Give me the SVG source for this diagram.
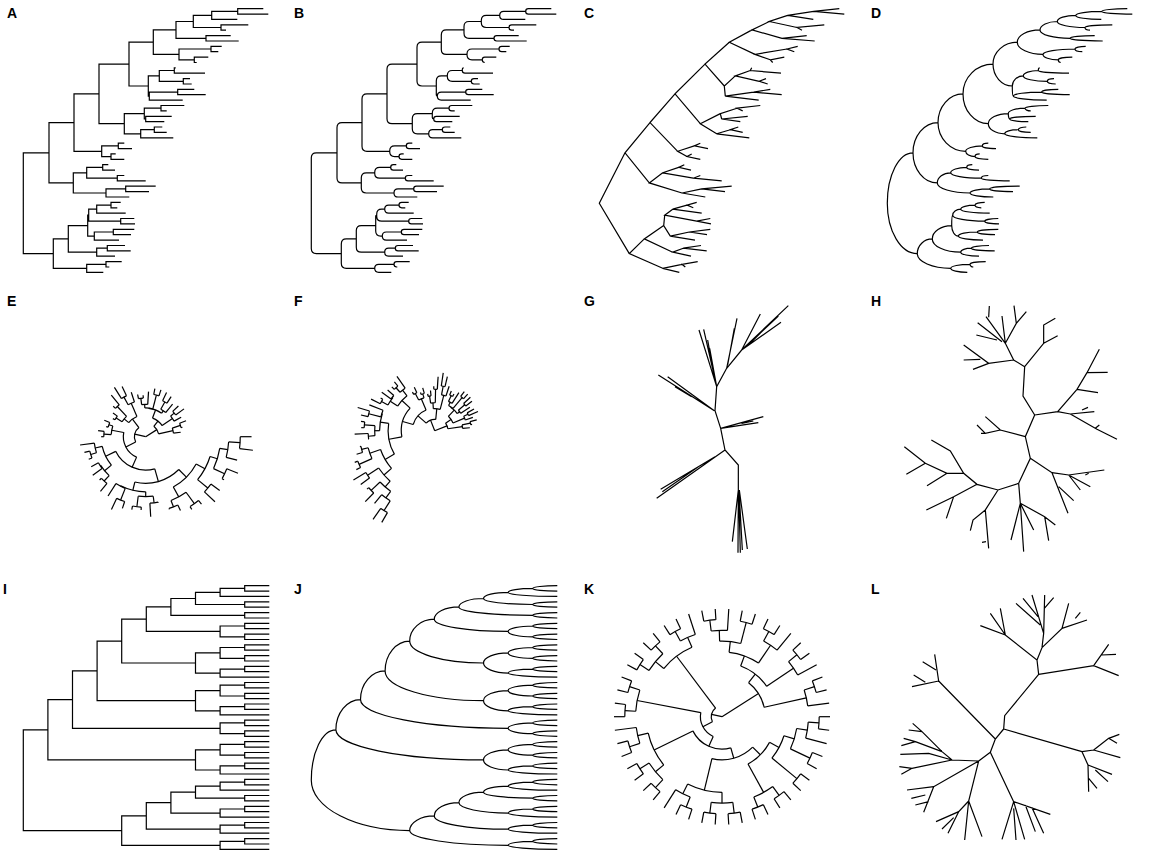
<svg xmlns="http://www.w3.org/2000/svg" width="1151" height="863" viewBox="0 0 1151 863">
<style>
.t{fill:none;stroke:#000;stroke-width:1.2;stroke-linecap:butt;stroke-linejoin:miter}
.lb{font-family:"Liberation Sans",Arial,sans-serif;font-weight:bold;font-size:14px;fill:#000}
</style>
<rect width="1151" height="863" fill="#fff"/>
<g id="labels">
<text class="lb" x="7" y="18">A</text>
<text class="lb" x="294" y="18">B</text>
<text class="lb" x="584" y="18">C</text>
<text class="lb" x="871" y="18">D</text>
<text class="lb" x="7" y="306">E</text>
<text class="lb" x="294" y="306">F</text>
<text class="lb" x="584" y="306">G</text>
<text class="lb" x="871" y="306">H</text>
<text class="lb" x="3" y="594">I</text>
<text class="lb" x="294" y="594">J</text>
<text class="lb" x="584" y="594">K</text>
<text class="lb" x="871" y="594">L</text>
</g>
<g id="tree-A" class="t">
<path d="M49 152.8H23.3V253.6H53.3M74 122.6H49V182.9H73.3M99 93.9H74V151.3H101.7M129 64.1H99V123.7H124.3M153.3 42.2H129V86H148.3M176 29.9H153.3V54.4H179M193.3 21.5H176V38.3H206M211.7 15.4H193.3V27.5H221M237.7 11.4H211.7V19.4H237.3M263.3 8.7H237.7V14.1H268.3M248.3 24.8H221V30.2H226M230.7 35.6H206V41H238.7M211 49H179V59.8H194.3M221.7 46.3H211V51.7H218.3M208.3 57.1H194.3V62.5H196.7M159.3 75.9H148.3V96.1H149.3M174.3 70.5H159.3V81.3H183.3M175.7 67.8H174.3V73.2H205M190 78.6H183.3V84H191.7M177.7 92.1H149.3V100.1H182.7M194.3 89.4H177.7V94.7H205.7M144.3 113.6H124.3V133.8H140.7M161 108.2H144.3V119H145.7M184.3 105.5H161V110.9H166.7M171.7 116.3H145.7V121.7H164.3M154.3 129.7H140.7V137.8H173.3M162.3 127H154.3V132.4H166.7M118.3 145.9H101.7V156.6H111M124.3 143.2H118.3V148.6H132M115.7 153.9H111V159.3H124.3M86.7 172.8H73.3V193H106M102.7 167.4H86.7V178.2H117.3M108.3 164.7H102.7V170.1H115M124.3 175.5H117.3V180.9H145.7M125.7 188.9H106V197H129.3M155.7 186.2H125.7V191.6H149M68.3 238.9H53.3V268.3H86.7M87.7 225.6H68.3V252.2H96.7M88.7 215.2H87.7V236.1H94.3M96.7 209.2H88.7V221.2H120.7M111 205.1H96.7V213.2H125.7M120.7 202.4H111V207.8H117.3M134.3 218.5H120.7V223.9H135M113.3 232H94.3V240.1H119M134.3 229.3H113.3V234.7H131M107.3 248.2H96.7V256.2H115M125 245.5H107.3V250.8H130.7M106 264.3H86.7V272.3H103.3M121.7 261.6H106V267H109.3"/>
</g>
<g id="tree-B" class="t" transform="translate(288,0)">
<path d="M49 152.8H28.3Q23.3 152.8 23.3 157.8V248.6Q23.3 253.6 28.3 253.6H53.3M74 122.6H54Q49 122.6 49 127.6V177.9Q49 182.9 54 182.9H73.3M99 93.9H79Q74 93.9 74 98.9V146.3Q74 151.3 79 151.3H101.7M129 64.1H104Q99 64.1 99 69.1V118.7Q99 123.7 104 123.7H124.3M153.3 42.2H134Q129 42.2 129 47.2V81Q129 86 134 86H148.3M176 29.9H158.3Q153.3 29.9 153.3 34.9V49.4Q153.3 54.4 158.3 54.4H179M193.3 21.5H181Q176 21.5 176 26.5V33.3Q176 38.3 181 38.3H206M211.7 15.4H198.3Q193.3 15.4 193.3 20.4V22.5Q193.3 27.5 198.3 27.5H221M237.7 11.4H215.7Q211.7 11.4 211.7 15.4Q211.7 19.4 215.7 19.4H237.3M263.3 8.7H240.4Q237.7 8.7 237.7 11.4Q237.7 14.1 240.4 14.1H268.3M248.3 24.8H223.7Q221 24.8 221 27.5Q221 30.2 223.7 30.2H226M230.7 35.6H208.7Q206 35.6 206 38.3Q206 41 208.7 41H238.7M211 49H184Q179 49 179 54V54.8Q179 59.8 184 59.8H194.3M221.7 46.3H213.7Q211 46.3 211 49Q211 51.7 213.7 51.7H218.3M208.3 57.1H196.7Q194.3 57.1 194.3 59.5V60.1Q194.3 62.5 196.7 62.5M159.3 75.9H153.3Q148.3 75.9 148.3 80.9V95.1Q148.3 96.1 149.3 96.1M174.3 70.5H164.3Q159.3 70.5 159.3 75.5V76.3Q159.3 81.3 164.3 81.3H183.3M175.7 67.8Q174.3 67.8 174.3 69.2V70.5Q174.3 73.2 177 73.2H205M190 78.6H186Q183.3 78.6 183.3 81.3Q183.3 84 186 84H191.7M177.7 92.1H153.3Q149.3 92.1 149.3 96.1Q149.3 100.1 153.3 100.1H182.7M194.3 89.4H180.4Q177.7 89.4 177.7 92.1Q177.7 94.7 180.4 94.7H205.7M144.3 113.6H129.3Q124.3 113.6 124.3 118.6V128.8Q124.3 133.8 129.3 133.8H140.7M161 108.2H149.3Q144.3 108.2 144.3 113.2V117.6Q144.3 119 145.7 119M184.3 105.5H163.7Q161 105.5 161 108.2Q161 110.9 163.7 110.9H166.7M171.7 116.3H148.4Q145.7 116.3 145.7 119Q145.7 121.7 148.4 121.7H164.3M154.3 129.7H144.7Q140.7 129.7 140.7 133.7Q140.7 137.8 144.7 137.8H173.3M162.3 127H157Q154.3 127 154.3 129.7Q154.3 132.4 157 132.4H166.7M118.3 145.9H106.7Q101.7 145.9 101.7 150.9V151.6Q101.7 156.6 106.7 156.6H111M124.3 143.2H121Q118.3 143.2 118.3 145.9Q118.3 148.6 121 148.6H132M115.7 153.9H113.7Q111 153.9 111 156.6Q111 159.3 113.7 159.3H124.3M86.7 172.8H78.3Q73.3 172.8 73.3 177.8V188Q73.3 193 78.3 193H106M102.7 167.4H91.7Q86.7 167.4 86.7 172.4V173.2Q86.7 178.2 91.7 178.2H117.3M108.3 164.7H105.4Q102.7 164.7 102.7 167.4Q102.7 170.1 105.4 170.1H115M124.3 175.5H120Q117.3 175.5 117.3 178.2Q117.3 180.9 120 180.9H145.7M125.7 188.9H110Q106 188.9 106 192.9Q106 197 110 197H129.3M155.7 186.2H128.4Q125.7 186.2 125.7 188.9Q125.7 191.6 128.4 191.6H149M68.3 238.9H58.3Q53.3 238.9 53.3 243.9V263.3Q53.3 268.3 58.3 268.3H86.7M87.7 225.6H73.3Q68.3 225.6 68.3 230.6V247.2Q68.3 252.2 73.3 252.2H96.7M88.7 215.2Q87.7 215.2 87.7 216.2V231.1Q87.7 236.1 92.7 236.1H94.3M96.7 209.2H93.7Q88.7 209.2 88.7 214.2V216.2Q88.7 221.2 93.7 221.2H120.7M111 205.1H100.7Q96.7 205.1 96.7 209.1Q96.7 213.2 100.7 213.2H125.7M120.7 202.4H113.7Q111 202.4 111 205.1Q111 207.8 113.7 207.8H117.3M134.3 218.5H123.4Q120.7 218.5 120.7 221.2Q120.7 223.9 123.4 223.9H135M113.3 232H98.3Q94.3 232 94.3 236Q94.3 240.1 98.3 240.1H119M134.3 229.3H116Q113.3 229.3 113.3 232Q113.3 234.7 116 234.7H131M107.3 248.2H100.7Q96.7 248.2 96.7 252.2Q96.7 256.2 100.7 256.2H115M125 245.5H110Q107.3 245.5 107.3 248.2Q107.3 250.8 110 250.8H130.7M106 264.3H90.7Q86.7 264.3 86.7 268.3Q86.7 272.3 90.7 272.3H103.3M121.7 261.6H108.7Q106 261.6 106 264.3Q106 267 108.7 267H109.3"/>
</g>
<g id="tree-C" class="t" transform="translate(576,0)">
<path d="M49 152.8L23.3 203.2L53.3 253.6M74 122.6L49 152.8L73.3 182.9M99 93.9L74 122.6L101.7 151.3M129 64.1L99 93.9L124.3 123.7M153.3 42.2L129 64.1L148.3 86M176 29.9L153.3 42.2L179 54.4M193.3 21.5L176 29.9L206 38.3M211.7 15.4L193.3 21.5L221 27.5M237.7 11.4L211.7 15.4L237.3 19.4M263.3 8.7L237.7 11.4L268.3 14.1M248.3 24.8L221 27.5L226 30.2M230.7 35.6L206 38.3L238.7 41M211 49L179 54.4L194.3 59.8M221.7 46.3L211 49L218.3 51.7M208.3 57.1L194.3 59.8L196.7 62.5M159.3 75.9L148.3 86L149.3 96.1M174.3 70.5L159.3 75.9L183.3 81.3M175.7 67.8L174.3 70.5L205 73.2M190 78.6L183.3 81.3L191.7 84M177.7 92.1L149.3 96.1L182.7 100.1M194.3 89.4L177.7 92.1L205.7 94.7M144.3 113.6L124.3 123.7L140.7 133.8M161 108.2L144.3 113.6L145.7 119M184.3 105.5L161 108.2L166.7 110.9M171.7 116.3L145.7 119L164.3 121.7M154.3 129.7L140.7 133.8L173.3 137.8M162.3 127L154.3 129.7L166.7 132.4M118.3 145.9L101.7 151.3L111 156.6M124.3 143.2L118.3 145.9L132 148.6M115.7 153.9L111 156.6L124.3 159.3M86.7 172.8L73.3 182.9L106 193M102.7 167.4L86.7 172.8L117.3 178.2M108.3 164.7L102.7 167.4L115 170.1M124.3 175.5L117.3 178.2L145.7 180.9M125.7 188.9L106 193L129.3 197M155.7 186.2L125.7 188.9L149 191.6M68.3 238.9L53.3 253.6L86.7 268.3M87.7 225.6L68.3 238.9L96.7 252.2M88.7 215.2L87.7 225.6L94.3 236.1M96.7 209.2L88.7 215.2L120.7 221.2M111 205.1L96.7 209.2L125.7 213.2M120.7 202.4L111 205.1L117.3 207.8M134.3 218.5L120.7 221.2L135 223.9M113.3 232L94.3 236.1L119 240.1M134.3 229.3L113.3 232L131 234.7M107.3 248.2L96.7 252.2L115 256.2M125 245.5L107.3 248.2L130.7 250.8M106 264.3L86.7 268.3L103.3 272.3M121.7 261.6L106 264.3L109.3 267"/>
</g>
<g id="tree-D" class="t" transform="translate(864,0)">
<path d="M49 152.8A25.7 50.4 0 0 0 23.3 203.2A30 50.4 0 0 0 53.3 253.6M74 122.6A25 30.2 0 0 0 49 152.8A24.3 30.1 0 0 0 73.3 182.9M99 93.9A25 28.7 0 0 0 74 122.6A27.7 28.7 0 0 0 101.7 151.3M129 64.1A30 29.8 0 0 0 99 93.9A25.3 29.8 0 0 0 124.3 123.7M153.3 42.2A24.3 21.9 0 0 0 129 64.1A19.3 21.9 0 0 0 148.3 86M176 29.9A22.7 12.3 0 0 0 153.3 42.2A25.7 12.2 0 0 0 179 54.4M193.3 21.5A17.3 8.4 0 0 0 176 29.9A30 8.4 0 0 0 206 38.3M211.7 15.4A18.4 6.1 0 0 0 193.3 21.5A27.7 6 0 0 0 221 27.5M237.7 11.4A26 4 0 0 0 211.7 15.4A25.6 4 0 0 0 237.3 19.4M263.3 8.7A25.6 2.7 0 0 0 237.7 11.4A30.6 2.7 0 0 0 268.3 14.1M248.3 24.8A27.3 2.7 0 0 0 221 27.5A5 2.7 0 0 0 226 30.2M230.7 35.6A24.7 2.7 0 0 0 206 38.3A32.7 2.7 0 0 0 238.7 41M211 49A32 5.4 0 0 0 179 54.4A15.3 5.4 0 0 0 194.3 59.8M221.7 46.3A10.7 2.7 0 0 0 211 49A7.3 2.7 0 0 0 218.3 51.7M208.3 57.1A14 2.7 0 0 0 194.3 59.8A2.4 2.7 0 0 0 196.7 62.5M159.3 75.9A11 10.1 0 0 0 148.3 86A1 10.1 0 0 0 149.3 96.1M174.3 70.5A15 5.4 0 0 0 159.3 75.9A24 5.4 0 0 0 183.3 81.3M175.7 67.8A1.4 2.7 0 0 0 174.3 70.5A30.7 2.7 0 0 0 205 73.2M190 78.6A6.7 2.7 0 0 0 183.3 81.3A8.4 2.7 0 0 0 191.7 84M177.7 92.1A28.4 4 0 0 0 149.3 96.1A33.4 4 0 0 0 182.7 100.1M194.3 89.4A16.6 2.7 0 0 0 177.7 92.1A28 2.6 0 0 0 205.7 94.7M144.3 113.6A20 10.1 0 0 0 124.3 123.7A16.4 10.1 0 0 0 140.7 133.8M161 108.2A16.7 5.4 0 0 0 144.3 113.6A1.4 5.4 0 0 0 145.7 119M184.3 105.5A23.3 2.7 0 0 0 161 108.2A5.7 2.7 0 0 0 166.7 110.9M171.7 116.3A26 2.7 0 0 0 145.7 119A18.6 2.7 0 0 0 164.3 121.7M154.3 129.7A13.6 4.1 0 0 0 140.7 133.8A32.6 4 0 0 0 173.3 137.8M162.3 127A8 2.7 0 0 0 154.3 129.7A12.4 2.7 0 0 0 166.7 132.4M118.3 145.9A16.6 5.4 0 0 0 101.7 151.3A9.3 5.3 0 0 0 111 156.6M124.3 143.2A6 2.7 0 0 0 118.3 145.9A13.7 2.7 0 0 0 132 148.6M115.7 153.9A4.7 2.7 0 0 0 111 156.6A13.3 2.7 0 0 0 124.3 159.3M86.7 172.8A13.4 10.1 0 0 0 73.3 182.9A32.7 10.1 0 0 0 106 193M102.7 167.4A16 5.4 0 0 0 86.7 172.8A30.6 5.4 0 0 0 117.3 178.2M108.3 164.7A5.6 2.7 0 0 0 102.7 167.4A12.3 2.7 0 0 0 115 170.1M124.3 175.5A7 2.7 0 0 0 117.3 178.2A28.4 2.7 0 0 0 145.7 180.9M125.7 188.9A19.7 4.1 0 0 0 106 193A23.3 4 0 0 0 129.3 197M155.7 186.2A30 2.7 0 0 0 125.7 188.9A23.3 2.7 0 0 0 149 191.6M68.3 238.9A15 14.7 0 0 0 53.3 253.6A33.4 14.7 0 0 0 86.7 268.3M87.7 225.6A19.4 13.3 0 0 0 68.3 238.9A28.4 13.3 0 0 0 96.7 252.2M88.7 215.2A1 10.4 0 0 0 87.7 225.6A6.6 10.5 0 0 0 94.3 236.1M96.7 209.2A8 6 0 0 0 88.7 215.2A32 6 0 0 0 120.7 221.2M111 205.1A14.3 4.1 0 0 0 96.7 209.2A29 4 0 0 0 125.7 213.2M120.7 202.4A9.7 2.7 0 0 0 111 205.1A6.3 2.7 0 0 0 117.3 207.8M134.3 218.5A13.6 2.7 0 0 0 120.7 221.2A14.3 2.7 0 0 0 135 223.9M113.3 232A19 4.1 0 0 0 94.3 236.1A24.7 4 0 0 0 119 240.1M134.3 229.3A21 2.7 0 0 0 113.3 232A17.7 2.7 0 0 0 131 234.7M107.3 248.2A10.6 4 0 0 0 96.7 252.2A18.3 4 0 0 0 115 256.2M125 245.5A17.7 2.7 0 0 0 107.3 248.2A23.4 2.6 0 0 0 130.7 250.8M106 264.3A19.3 4 0 0 0 86.7 268.3A16.6 4 0 0 0 103.3 272.3M121.7 261.6A15.7 2.7 0 0 0 106 264.3A3.3 2.7 0 0 0 109.3 267"/>
</g>
<g id="tree-E" class="t" transform="translate(145.7,436.7) scale(0.441)" style="stroke-width:2.72">
<path d="M0 0H25.7" transform="rotate(-167.2)"/><path d="M0 0H30" transform="rotate(-32.3)"/>
<path d="M25.7 0H50.7" transform="rotate(-207.6)"/><path d="M25.7 0H50" transform="rotate(-126.9)"/>
<path d="M50.7 0H75.7" transform="rotate(-246)"/><path d="M50.7 0H78.4" transform="rotate(-169.2)"/>
<path d="M75.7 0H105.7" transform="rotate(-285.8)"/><path d="M75.7 0H101" transform="rotate(-206.1)"/>
<path d="M105.7 0H130" transform="rotate(-315.2)"/><path d="M105.7 0H125" transform="rotate(-256.5)"/>
<path d="M130 0H152.7" transform="rotate(-331.65)"/><path d="M130 0H155.7" transform="rotate(-298.8)"/>
<path d="M152.7 0H170" transform="rotate(-342.9)"/><path d="M152.7 0H182.7" transform="rotate(-320.4)"/>
<path d="M170 0H188.4" transform="rotate(-351)"/><path d="M170 0H197.7" transform="rotate(-334.8)"/>
<path d="M188.4 0H214.4" transform="rotate(-356.4)"/><path d="M188.4 0H214" transform="rotate(-345.6)"/>
<path d="M214.4 0H240" transform="rotate(-360)"/><path d="M214.4 0H245" transform="rotate(-352.8)"/>
<path d="M197.7 0H225" transform="rotate(-338.4)"/><path d="M197.7 0H202.7" transform="rotate(-331.2)"/>
<path d="M182.7 0H207.4" transform="rotate(-324)"/><path d="M182.7 0H215.4" transform="rotate(-316.8)"/>
<path d="M155.7 0H187.7" transform="rotate(-306)"/><path d="M155.7 0H171" transform="rotate(-291.6)"/>
<path d="M187.7 0H198.4" transform="rotate(-309.6)"/><path d="M187.7 0H195" transform="rotate(-302.4)"/>
<path d="M171 0H185" transform="rotate(-295.2)"/><path d="M171 0H173.4" transform="rotate(-288)"/>
<path d="M125 0H136" transform="rotate(-270)"/><path d="M125 0H126" transform="rotate(-243)"/>
<path d="M136 0H151" transform="rotate(-277.2)"/><path d="M136 0H160" transform="rotate(-262.8)"/>
<path d="M151 0H152.4" transform="rotate(-280.8)"/><path d="M151 0H181.7" transform="rotate(-273.6)"/>
<path d="M160 0H166.7" transform="rotate(-266.4)"/><path d="M160 0H168.4" transform="rotate(-259.2)"/>
<path d="M126 0H154.4" transform="rotate(-248.4)"/><path d="M126 0H159.4" transform="rotate(-237.6)"/>
<path d="M154.4 0H171" transform="rotate(-252)"/><path d="M154.4 0H182.4" transform="rotate(-244.8)"/>
<path d="M101 0H121" transform="rotate(-219.6)"/><path d="M101 0H117.4" transform="rotate(-192.6)"/>
<path d="M121 0H137.7" transform="rotate(-226.8)"/><path d="M121 0H122.4" transform="rotate(-212.4)"/>
<path d="M137.7 0H161" transform="rotate(-230.4)"/><path d="M137.7 0H143.4" transform="rotate(-223.2)"/>
<path d="M122.4 0H148.4" transform="rotate(-216)"/><path d="M122.4 0H141" transform="rotate(-208.8)"/>
<path d="M117.4 0H131" transform="rotate(-198)"/><path d="M117.4 0H150" transform="rotate(-187.2)"/>
<path d="M131 0H139" transform="rotate(-201.6)"/><path d="M131 0H143.4" transform="rotate(-194.4)"/>
<path d="M78.4 0H95" transform="rotate(-176.4)"/><path d="M78.4 0H87.7" transform="rotate(-162)"/>
<path d="M95 0H101" transform="rotate(-180)"/><path d="M95 0H108.7" transform="rotate(-172.8)"/>
<path d="M87.7 0H92.4" transform="rotate(-165.6)"/><path d="M87.7 0H101" transform="rotate(-158.4)"/>
<path d="M50 0H63.4" transform="rotate(-140.4)"/><path d="M50 0H82.7" transform="rotate(-113.4)"/>
<path d="M63.4 0H79.4" transform="rotate(-147.6)"/><path d="M63.4 0H94" transform="rotate(-133.2)"/>
<path d="M79.4 0H85" transform="rotate(-151.2)"/><path d="M79.4 0H91.7" transform="rotate(-144)"/>
<path d="M94 0H101" transform="rotate(-136.8)"/><path d="M94 0H122.4" transform="rotate(-129.6)"/>
<path d="M82.7 0H102.4" transform="rotate(-118.8)"/><path d="M82.7 0H106" transform="rotate(-108)"/>
<path d="M102.4 0H132.4" transform="rotate(-122.4)"/><path d="M102.4 0H125.7" transform="rotate(-115.2)"/>
<path d="M30 0H45" transform="rotate(-52)"/><path d="M30 0H63.4" transform="rotate(-12.6)"/>
<path d="M45 0H64.4" transform="rotate(-69.75)"/><path d="M45 0H73.4" transform="rotate(-34.2)"/>
<path d="M64.4 0H65.4" transform="rotate(-83.7)"/><path d="M64.4 0H71" transform="rotate(-55.8)"/>
<path d="M65.4 0H73.4" transform="rotate(-91.8)"/><path d="M65.4 0H97.4" transform="rotate(-75.6)"/>
<path d="M73.4 0H87.7" transform="rotate(-97.2)"/><path d="M73.4 0H102.4" transform="rotate(-86.4)"/>
<path d="M87.7 0H97.4" transform="rotate(-100.8)"/><path d="M87.7 0H94" transform="rotate(-93.6)"/>
<path d="M97.4 0H111" transform="rotate(-79.2)"/><path d="M97.4 0H111.7" transform="rotate(-72)"/>
<path d="M71 0H90" transform="rotate(-61.2)"/><path d="M71 0H95.7" transform="rotate(-50.4)"/>
<path d="M90 0H111" transform="rotate(-64.8)"/><path d="M90 0H107.7" transform="rotate(-57.6)"/>
<path d="M73.4 0H84" transform="rotate(-39.6)"/><path d="M73.4 0H91.7" transform="rotate(-28.8)"/>
<path d="M84 0H101.7" transform="rotate(-43.2)"/><path d="M84 0H107.4" transform="rotate(-36)"/>
<path d="M63.4 0H82.7" transform="rotate(-18)"/><path d="M63.4 0H80" transform="rotate(-7.2)"/>
<path d="M82.7 0H98.4" transform="rotate(-21.6)"/><path d="M82.7 0H86" transform="rotate(-14.4)"/>
<circle r="25.7" transform="rotate(-207.6)" stroke-dasharray="36.19 2000"/>
<circle r="50.7" transform="rotate(-246)" stroke-dasharray="67.91 2000"/>
<circle r="75.7" transform="rotate(-285.8)" stroke-dasharray="105.35 2000"/>
<circle r="105.7" transform="rotate(-315.2)" stroke-dasharray="108.32 2000"/>
<circle r="130" transform="rotate(-331.65)" stroke-dasharray="74.53 2000"/>
<circle r="152.7" transform="rotate(-342.9)" stroke-dasharray="59.96 2000"/>
<circle r="170" transform="rotate(-351)" stroke-dasharray="48.07 2000"/>
<circle r="188.4" transform="rotate(-356.4)" stroke-dasharray="35.51 2000"/>
<circle r="214.4" transform="rotate(-360)" stroke-dasharray="26.94 2000"/>
<circle r="197.7" transform="rotate(-338.4)" stroke-dasharray="24.84 2000"/>
<circle r="182.7" transform="rotate(-324)" stroke-dasharray="22.96 2000"/>
<circle r="155.7" transform="rotate(-306)" stroke-dasharray="39.13 2000"/>
<circle r="187.7" transform="rotate(-309.6)" stroke-dasharray="23.59 2000"/>
<circle r="171" transform="rotate(-295.2)" stroke-dasharray="21.49 2000"/>
<circle r="125" transform="rotate(-270)" stroke-dasharray="58.9 2000"/>
<circle r="136" transform="rotate(-277.2)" stroke-dasharray="34.18 2000"/>
<circle r="151" transform="rotate(-280.8)" stroke-dasharray="18.97 2000"/>
<circle r="160" transform="rotate(-266.4)" stroke-dasharray="20.11 2000"/>
<circle r="126" transform="rotate(-248.4)" stroke-dasharray="23.75 2000"/>
<circle r="154.4" transform="rotate(-252)" stroke-dasharray="19.4 2000"/>
<circle r="101" transform="rotate(-219.6)" stroke-dasharray="47.6 2000"/>
<circle r="121" transform="rotate(-226.8)" stroke-dasharray="30.41 2000"/>
<circle r="137.7" transform="rotate(-230.4)" stroke-dasharray="17.3 2000"/>
<circle r="122.4" transform="rotate(-216)" stroke-dasharray="15.38 2000"/>
<circle r="117.4" transform="rotate(-198)" stroke-dasharray="22.13 2000"/>
<circle r="131" transform="rotate(-201.6)" stroke-dasharray="16.46 2000"/>
<circle r="78.4" transform="rotate(-176.4)" stroke-dasharray="19.7 2000"/>
<circle r="95" transform="rotate(-180)" stroke-dasharray="11.94 2000"/>
<circle r="87.7" transform="rotate(-165.6)" stroke-dasharray="11.02 2000"/>
<circle r="50" transform="rotate(-140.4)" stroke-dasharray="23.56 2000"/>
<circle r="63.4" transform="rotate(-147.6)" stroke-dasharray="15.93 2000"/>
<circle r="79.4" transform="rotate(-151.2)" stroke-dasharray="9.98 2000"/>
<circle r="94" transform="rotate(-136.8)" stroke-dasharray="11.81 2000"/>
<circle r="82.7" transform="rotate(-118.8)" stroke-dasharray="15.59 2000"/>
<circle r="102.4" transform="rotate(-122.4)" stroke-dasharray="12.87 2000"/>
<circle r="30" transform="rotate(-52)" stroke-dasharray="20.62 2000"/>
<circle r="45" transform="rotate(-69.75)" stroke-dasharray="27.92 2000"/>
<circle r="64.4" transform="rotate(-83.7)" stroke-dasharray="31.36 2000"/>
<circle r="65.4" transform="rotate(-91.8)" stroke-dasharray="18.49 2000"/>
<circle r="73.4" transform="rotate(-97.2)" stroke-dasharray="13.84 2000"/>
<circle r="87.7" transform="rotate(-100.8)" stroke-dasharray="11.02 2000"/>
<circle r="97.4" transform="rotate(-79.2)" stroke-dasharray="12.24 2000"/>
<circle r="71" transform="rotate(-61.2)" stroke-dasharray="13.38 2000"/>
<circle r="90" transform="rotate(-64.8)" stroke-dasharray="11.31 2000"/>
<circle r="73.4" transform="rotate(-39.6)" stroke-dasharray="13.84 2000"/>
<circle r="84" transform="rotate(-43.2)" stroke-dasharray="10.56 2000"/>
<circle r="63.4" transform="rotate(-18)" stroke-dasharray="11.95 2000"/>
<circle r="82.7" transform="rotate(-21.6)" stroke-dasharray="10.39 2000"/>
</g>
<g id="tree-F" class="t" transform="translate(434.7,430.7) scale(0.441)" style="stroke-width:2.72">
<path d="M0 0H25.7" transform="rotate(-111.5)"/><path d="M0 0H30" transform="rotate(-21.5)"/>
<path d="M25.7 0H50.7" transform="rotate(-138.4)"/><path d="M25.7 0H50" transform="rotate(-84.6)"/>
<path d="M50.7 0H75.7" transform="rotate(-164)"/><path d="M50.7 0H78.4" transform="rotate(-112.8)"/>
<path d="M75.7 0H105.7" transform="rotate(-190.6)"/><path d="M75.7 0H101" transform="rotate(-137.4)"/>
<path d="M105.7 0H130" transform="rotate(-210.1)"/><path d="M105.7 0H125" transform="rotate(-171)"/>
<path d="M130 0H152.7" transform="rotate(-221.1)"/><path d="M130 0H155.7" transform="rotate(-199.2)"/>
<path d="M152.7 0H170" transform="rotate(-228.6)"/><path d="M152.7 0H182.7" transform="rotate(-213.6)"/>
<path d="M170 0H188.4" transform="rotate(-234)"/><path d="M170 0H197.7" transform="rotate(-223.2)"/>
<path d="M188.4 0H214.4" transform="rotate(-237.6)"/><path d="M188.4 0H214" transform="rotate(-230.4)"/>
<path d="M214.4 0H240" transform="rotate(-240)"/><path d="M214.4 0H245" transform="rotate(-235.2)"/>
<path d="M197.7 0H225" transform="rotate(-225.6)"/><path d="M197.7 0H202.7" transform="rotate(-220.8)"/>
<path d="M182.7 0H207.4" transform="rotate(-216)"/><path d="M182.7 0H215.4" transform="rotate(-211.2)"/>
<path d="M155.7 0H187.7" transform="rotate(-204)"/><path d="M155.7 0H171" transform="rotate(-194.4)"/>
<path d="M187.7 0H198.4" transform="rotate(-206.4)"/><path d="M187.7 0H195" transform="rotate(-201.6)"/>
<path d="M171 0H185" transform="rotate(-196.8)"/><path d="M171 0H173.4" transform="rotate(-192)"/>
<path d="M125 0H136" transform="rotate(-180)"/><path d="M125 0H126" transform="rotate(-162)"/>
<path d="M136 0H151" transform="rotate(-184.8)"/><path d="M136 0H160" transform="rotate(-175.2)"/>
<path d="M151 0H152.4" transform="rotate(-187.2)"/><path d="M151 0H181.7" transform="rotate(-182.4)"/>
<path d="M160 0H166.7" transform="rotate(-177.6)"/><path d="M160 0H168.4" transform="rotate(-172.8)"/>
<path d="M126 0H154.4" transform="rotate(-165.6)"/><path d="M126 0H159.4" transform="rotate(-158.4)"/>
<path d="M154.4 0H171" transform="rotate(-168)"/><path d="M154.4 0H182.4" transform="rotate(-163.2)"/>
<path d="M101 0H121" transform="rotate(-146.4)"/><path d="M101 0H117.4" transform="rotate(-128.4)"/>
<path d="M121 0H137.7" transform="rotate(-151.2)"/><path d="M121 0H122.4" transform="rotate(-141.6)"/>
<path d="M137.7 0H161" transform="rotate(-153.6)"/><path d="M137.7 0H143.4" transform="rotate(-148.8)"/>
<path d="M122.4 0H148.4" transform="rotate(-144)"/><path d="M122.4 0H141" transform="rotate(-139.2)"/>
<path d="M117.4 0H131" transform="rotate(-132)"/><path d="M117.4 0H150" transform="rotate(-124.8)"/>
<path d="M131 0H139" transform="rotate(-134.4)"/><path d="M131 0H143.4" transform="rotate(-129.6)"/>
<path d="M78.4 0H95" transform="rotate(-117.6)"/><path d="M78.4 0H87.7" transform="rotate(-108)"/>
<path d="M95 0H101" transform="rotate(-120)"/><path d="M95 0H108.7" transform="rotate(-115.2)"/>
<path d="M87.7 0H92.4" transform="rotate(-110.4)"/><path d="M87.7 0H101" transform="rotate(-105.6)"/>
<path d="M50 0H63.4" transform="rotate(-93.6)"/><path d="M50 0H82.7" transform="rotate(-75.6)"/>
<path d="M63.4 0H79.4" transform="rotate(-98.4)"/><path d="M63.4 0H94" transform="rotate(-88.8)"/>
<path d="M79.4 0H85" transform="rotate(-100.8)"/><path d="M79.4 0H91.7" transform="rotate(-96)"/>
<path d="M94 0H101" transform="rotate(-91.2)"/><path d="M94 0H122.4" transform="rotate(-86.4)"/>
<path d="M82.7 0H102.4" transform="rotate(-79.2)"/><path d="M82.7 0H106" transform="rotate(-72)"/>
<path d="M102.4 0H132.4" transform="rotate(-81.6)"/><path d="M102.4 0H125.7" transform="rotate(-76.8)"/>
<path d="M30 0H45" transform="rotate(-34.7)"/><path d="M30 0H63.4" transform="rotate(-8.4)"/>
<path d="M45 0H64.4" transform="rotate(-46.5)"/><path d="M45 0H73.4" transform="rotate(-22.8)"/>
<path d="M64.4 0H65.4" transform="rotate(-55.8)"/><path d="M64.4 0H71" transform="rotate(-37.2)"/>
<path d="M65.4 0H73.4" transform="rotate(-61.2)"/><path d="M65.4 0H97.4" transform="rotate(-50.4)"/>
<path d="M73.4 0H87.7" transform="rotate(-64.8)"/><path d="M73.4 0H102.4" transform="rotate(-57.6)"/>
<path d="M87.7 0H97.4" transform="rotate(-67.2)"/><path d="M87.7 0H94" transform="rotate(-62.4)"/>
<path d="M97.4 0H111" transform="rotate(-52.8)"/><path d="M97.4 0H111.7" transform="rotate(-48)"/>
<path d="M71 0H90" transform="rotate(-40.8)"/><path d="M71 0H95.7" transform="rotate(-33.6)"/>
<path d="M90 0H111" transform="rotate(-43.2)"/><path d="M90 0H107.7" transform="rotate(-38.4)"/>
<path d="M73.4 0H84" transform="rotate(-26.4)"/><path d="M73.4 0H91.7" transform="rotate(-19.2)"/>
<path d="M84 0H101.7" transform="rotate(-28.8)"/><path d="M84 0H107.4" transform="rotate(-24)"/>
<path d="M63.4 0H82.7" transform="rotate(-12)"/><path d="M63.4 0H80" transform="rotate(-4.8)"/>
<path d="M82.7 0H98.4" transform="rotate(-14.4)"/><path d="M82.7 0H86" transform="rotate(-9.6)"/>
<circle r="25.7" transform="rotate(-138.4)" stroke-dasharray="24.13 2000"/>
<circle r="50.7" transform="rotate(-164)" stroke-dasharray="45.27 2000"/>
<circle r="75.7" transform="rotate(-190.6)" stroke-dasharray="70.23 2000"/>
<circle r="105.7" transform="rotate(-210.1)" stroke-dasharray="72.21 2000"/>
<circle r="130" transform="rotate(-221.1)" stroke-dasharray="49.69 2000"/>
<circle r="152.7" transform="rotate(-228.6)" stroke-dasharray="39.97 2000"/>
<circle r="170" transform="rotate(-234)" stroke-dasharray="32.05 2000"/>
<circle r="188.4" transform="rotate(-237.6)" stroke-dasharray="23.67 2000"/>
<circle r="214.4" transform="rotate(-240)" stroke-dasharray="17.96 2000"/>
<circle r="197.7" transform="rotate(-225.6)" stroke-dasharray="16.56 2000"/>
<circle r="182.7" transform="rotate(-216)" stroke-dasharray="15.31 2000"/>
<circle r="155.7" transform="rotate(-204)" stroke-dasharray="26.09 2000"/>
<circle r="187.7" transform="rotate(-206.4)" stroke-dasharray="15.73 2000"/>
<circle r="171" transform="rotate(-196.8)" stroke-dasharray="14.33 2000"/>
<circle r="125" transform="rotate(-180)" stroke-dasharray="39.27 2000"/>
<circle r="136" transform="rotate(-184.8)" stroke-dasharray="22.79 2000"/>
<circle r="151" transform="rotate(-187.2)" stroke-dasharray="12.65 2000"/>
<circle r="160" transform="rotate(-177.6)" stroke-dasharray="13.41 2000"/>
<circle r="126" transform="rotate(-165.6)" stroke-dasharray="15.83 2000"/>
<circle r="154.4" transform="rotate(-168)" stroke-dasharray="12.93 2000"/>
<circle r="101" transform="rotate(-146.4)" stroke-dasharray="31.73 2000"/>
<circle r="121" transform="rotate(-151.2)" stroke-dasharray="20.27 2000"/>
<circle r="137.7" transform="rotate(-153.6)" stroke-dasharray="11.53 2000"/>
<circle r="122.4" transform="rotate(-144)" stroke-dasharray="10.25 2000"/>
<circle r="117.4" transform="rotate(-132)" stroke-dasharray="14.75 2000"/>
<circle r="131" transform="rotate(-134.4)" stroke-dasharray="10.97 2000"/>
<circle r="78.4" transform="rotate(-117.6)" stroke-dasharray="13.13 2000"/>
<circle r="95" transform="rotate(-120)" stroke-dasharray="7.96 2000"/>
<circle r="87.7" transform="rotate(-110.4)" stroke-dasharray="7.35 2000"/>
<circle r="50" transform="rotate(-93.6)" stroke-dasharray="15.71 2000"/>
<circle r="63.4" transform="rotate(-98.4)" stroke-dasharray="10.62 2000"/>
<circle r="79.4" transform="rotate(-100.8)" stroke-dasharray="6.65 2000"/>
<circle r="94" transform="rotate(-91.2)" stroke-dasharray="7.87 2000"/>
<circle r="82.7" transform="rotate(-79.2)" stroke-dasharray="10.39 2000"/>
<circle r="102.4" transform="rotate(-81.6)" stroke-dasharray="8.58 2000"/>
<circle r="30" transform="rotate(-34.7)" stroke-dasharray="13.75 2000"/>
<circle r="45" transform="rotate(-46.5)" stroke-dasharray="18.61 2000"/>
<circle r="64.4" transform="rotate(-55.8)" stroke-dasharray="20.91 2000"/>
<circle r="65.4" transform="rotate(-61.2)" stroke-dasharray="12.33 2000"/>
<circle r="73.4" transform="rotate(-64.8)" stroke-dasharray="9.23 2000"/>
<circle r="87.7" transform="rotate(-67.2)" stroke-dasharray="7.35 2000"/>
<circle r="97.4" transform="rotate(-52.8)" stroke-dasharray="8.16 2000"/>
<circle r="71" transform="rotate(-40.8)" stroke-dasharray="8.92 2000"/>
<circle r="90" transform="rotate(-43.2)" stroke-dasharray="7.54 2000"/>
<circle r="73.4" transform="rotate(-26.4)" stroke-dasharray="9.23 2000"/>
<circle r="84" transform="rotate(-28.8)" stroke-dasharray="7.04 2000"/>
<circle r="63.4" transform="rotate(-12)" stroke-dasharray="7.97 2000"/>
<circle r="82.7" transform="rotate(-14.4)" stroke-dasharray="6.93 2000"/>
</g>
<g id="tree-G" class="t" transform="translate(575,290) scale(0.33333)" style="stroke-width:3.6">
<path d="M490 600L490 525L450 480L437 415L420 362L425 290L455 235M490 600L472 755M490 600L489 788M491 600L496 788M492 600L502 780M493 600L517 777M450 480L245 625M420 500L257 598M370 530L262 605M437 415L565 380M437 415L550 398M500 400L535 393M418 362L250 255M418 362L278 260M350 320L300 290M425 290L372 120M425 290L386 118M420 270L398 150M425 290L404 175M455 235L486 85M458 225L478 115M455 235L500 180L640 47M500 180L556 72M500 180L618 97M520 165L585 100M525 158L610 78"/>
</g>
<g id="tree-H" class="t" transform="translate(862,290) scale(0.33333)" style="stroke-width:3.6">
<path d="M488 230L483 318L518 375L490 440L505 505L470 580M488 230L455 210L430 160L372 80M380 82L382 48M430 160L420 78M430 160L463 100L456 47M463 100L493 65M420 155L347 98M405 150L343 135M455 210L380 220L305 165M380 220L333 238M355 208L305 210M488 230L545 160L545 105L580 85M545 160L587 137M518 375L587 365L645 298L675 248L712 178M675 248L737 247M645 298L708 308M587 365L625 372L697 365M625 372L705 418L765 448M700 415L712 405M660 360L678 352M490 440L415 420L370 380M415 420L370 430L345 405M370 430L357 430M505 505L570 548L620 555L727 540M620 555L685 590M620 555L655 600M570 548L618 670M590 590L635 632M670 555L680 550M470 580L408 600L345 583L305 550L265 483L208 450M305 550L255 550L190 520L127 470M190 520L133 553M255 550L195 587M345 583L275 620L193 660M275 620L253 685M408 600L370 660L380 775M370 660L333 690L325 722M372 755L360 757M470 580L475 640L485 785M475 640L447 750M475 640L515 720M475 640L548 680L580 705M548 680L560 752"/>
</g>
<g id="tree-I" class="t" transform="translate(0,577)">
<path d="M47.9 152.8H23.3V253.6H121.7M72.5 122.6H47.9V182.9H195.5M97.1 93.9H72.5V151.3H220.1M121.7 64.1H97.1V123.7H195.5M146.3 42.2H121.7V86H195.5M170.9 29.9H146.3V54.4H220.1M195.5 21.5H170.9V38.3H244.7M220.1 15.4H195.5V27.5H244.7M244.7 11.4H220.1V19.4H269.3M269.3 8.7H244.7V14.1H269.3M269.3 24.8H244.7V30.2H269.3M269.3 35.6H244.7V41H269.3M244.7 49H220.1V59.8H244.7M269.3 46.3H244.7V51.7H269.3M269.3 57.1H244.7V62.5H269.3M220.1 75.9H195.5V96.1H220.1M244.7 70.5H220.1V81.3H244.7M269.3 67.8H244.7V73.2H269.3M269.3 78.6H244.7V84H269.3M244.7 92.1H220.1V100.1H269.3M269.3 89.4H244.7V94.7H269.3M220.1 113.6H195.5V133.8H220.1M244.7 108.2H220.1V119H244.7M269.3 105.5H244.7V110.9H269.3M269.3 116.3H244.7V121.7H269.3M244.7 129.7H220.1V137.8H269.3M269.3 127H244.7V132.4H269.3M244.7 145.9H220.1V156.6H244.7M269.3 143.2H244.7V148.6H269.3M269.3 153.9H244.7V159.3H269.3M220.1 172.8H195.5V193H220.1M244.7 167.4H220.1V178.2H244.7M269.3 164.7H244.7V170.1H269.3M269.3 175.5H244.7V180.9H269.3M244.7 188.9H220.1V197H269.3M269.3 186.2H244.7V191.6H269.3M146.3 238.9H121.7V268.3H220.1M170.9 225.6H146.3V252.2H220.1M195.5 215.2H170.9V236.1H220.1M220.1 209.2H195.5V221.2H244.7M244.7 205.1H220.1V213.2H269.3M269.3 202.4H244.7V207.8H269.3M269.3 218.5H244.7V223.9H269.3M244.7 232H220.1V240.1H269.3M269.3 229.3H244.7V234.7H269.3M244.7 248.2H220.1V256.2H269.3M269.3 245.5H244.7V250.8H269.3M244.7 264.3H220.1V272.3H269.3M269.3 261.6H244.7V267H269.3"/>
</g>
<g id="tree-J" class="t" transform="translate(288,577)">
<path d="M47.9 152.8A24.6 50.4 0 0 0 23.3 203.2A98.4 50.4 0 0 0 121.7 253.6M72.5 122.6A24.6 30.2 0 0 0 47.9 152.8A147.6 30.1 0 0 0 195.5 182.9M97.1 93.9A24.6 28.7 0 0 0 72.5 122.6A147.6 28.7 0 0 0 220.1 151.3M121.7 64.1A24.6 29.8 0 0 0 97.1 93.9A98.4 29.8 0 0 0 195.5 123.7M146.3 42.2A24.6 21.9 0 0 0 121.7 64.1A73.8 21.9 0 0 0 195.5 86M170.9 29.9A24.6 12.3 0 0 0 146.3 42.2A73.8 12.2 0 0 0 220.1 54.4M195.5 21.5A24.6 8.4 0 0 0 170.9 29.9A73.8 8.4 0 0 0 244.7 38.3M220.1 15.4A24.6 6.1 0 0 0 195.5 21.5A49.2 6 0 0 0 244.7 27.5M244.7 11.4A24.6 4 0 0 0 220.1 15.4A49.2 4 0 0 0 269.3 19.4M269.3 8.7A24.6 2.7 0 0 0 244.7 11.4A24.6 2.7 0 0 0 269.3 14.1M269.3 24.8A24.6 2.7 0 0 0 244.7 27.5A24.6 2.7 0 0 0 269.3 30.2M269.3 35.6A24.6 2.7 0 0 0 244.7 38.3A24.6 2.7 0 0 0 269.3 41M244.7 49A24.6 5.4 0 0 0 220.1 54.4A24.6 5.4 0 0 0 244.7 59.8M269.3 46.3A24.6 2.7 0 0 0 244.7 49A24.6 2.7 0 0 0 269.3 51.7M269.3 57.1A24.6 2.7 0 0 0 244.7 59.8A24.6 2.7 0 0 0 269.3 62.5M220.1 75.9A24.6 10.1 0 0 0 195.5 86A24.6 10.1 0 0 0 220.1 96.1M244.7 70.5A24.6 5.4 0 0 0 220.1 75.9A24.6 5.4 0 0 0 244.7 81.3M269.3 67.8A24.6 2.7 0 0 0 244.7 70.5A24.6 2.7 0 0 0 269.3 73.2M269.3 78.6A24.6 2.7 0 0 0 244.7 81.3A24.6 2.7 0 0 0 269.3 84M244.7 92.1A24.6 4 0 0 0 220.1 96.1A49.2 4 0 0 0 269.3 100.1M269.3 89.4A24.6 2.7 0 0 0 244.7 92.1A24.6 2.6 0 0 0 269.3 94.7M220.1 113.6A24.6 10.1 0 0 0 195.5 123.7A24.6 10.1 0 0 0 220.1 133.8M244.7 108.2A24.6 5.4 0 0 0 220.1 113.6A24.6 5.4 0 0 0 244.7 119M269.3 105.5A24.6 2.7 0 0 0 244.7 108.2A24.6 2.7 0 0 0 269.3 110.9M269.3 116.3A24.6 2.7 0 0 0 244.7 119A24.6 2.7 0 0 0 269.3 121.7M244.7 129.7A24.6 4.1 0 0 0 220.1 133.8A49.2 4 0 0 0 269.3 137.8M269.3 127A24.6 2.7 0 0 0 244.7 129.7A24.6 2.7 0 0 0 269.3 132.4M244.7 145.9A24.6 5.4 0 0 0 220.1 151.3A24.6 5.3 0 0 0 244.7 156.6M269.3 143.2A24.6 2.7 0 0 0 244.7 145.9A24.6 2.7 0 0 0 269.3 148.6M269.3 153.9A24.6 2.7 0 0 0 244.7 156.6A24.6 2.7 0 0 0 269.3 159.3M220.1 172.8A24.6 10.1 0 0 0 195.5 182.9A24.6 10.1 0 0 0 220.1 193M244.7 167.4A24.6 5.4 0 0 0 220.1 172.8A24.6 5.4 0 0 0 244.7 178.2M269.3 164.7A24.6 2.7 0 0 0 244.7 167.4A24.6 2.7 0 0 0 269.3 170.1M269.3 175.5A24.6 2.7 0 0 0 244.7 178.2A24.6 2.7 0 0 0 269.3 180.9M244.7 188.9A24.6 4.1 0 0 0 220.1 193A49.2 4 0 0 0 269.3 197M269.3 186.2A24.6 2.7 0 0 0 244.7 188.9A24.6 2.7 0 0 0 269.3 191.6M146.3 238.9A24.6 14.7 0 0 0 121.7 253.6A98.4 14.7 0 0 0 220.1 268.3M170.9 225.6A24.6 13.3 0 0 0 146.3 238.9A73.8 13.3 0 0 0 220.1 252.2M195.5 215.2A24.6 10.4 0 0 0 170.9 225.6A49.2 10.5 0 0 0 220.1 236.1M220.1 209.2A24.6 6 0 0 0 195.5 215.2A49.2 6 0 0 0 244.7 221.2M244.7 205.1A24.6 4.1 0 0 0 220.1 209.2A49.2 4 0 0 0 269.3 213.2M269.3 202.4A24.6 2.7 0 0 0 244.7 205.1A24.6 2.7 0 0 0 269.3 207.8M269.3 218.5A24.6 2.7 0 0 0 244.7 221.2A24.6 2.7 0 0 0 269.3 223.9M244.7 232A24.6 4.1 0 0 0 220.1 236.1A49.2 4 0 0 0 269.3 240.1M269.3 229.3A24.6 2.7 0 0 0 244.7 232A24.6 2.7 0 0 0 269.3 234.7M244.7 248.2A24.6 4 0 0 0 220.1 252.2A49.2 4 0 0 0 269.3 256.2M269.3 245.5A24.6 2.7 0 0 0 244.7 248.2A24.6 2.6 0 0 0 269.3 250.8M244.7 264.3A24.6 4 0 0 0 220.1 268.3A49.2 4 0 0 0 269.3 272.3M269.3 261.6A24.6 2.7 0 0 0 244.7 264.3A24.6 2.7 0 0 0 269.3 267"/>
</g>
<g id="tree-K" class="t" transform="translate(722,716.7) scale(10.8)" style="stroke-width:0.111">
<path d="M0 0H1" transform="rotate(-167.2)"/><path d="M0 0H4" transform="rotate(-32.3)"/>
<path d="M1 0H2" transform="rotate(-207.6)"/><path d="M1 0H7" transform="rotate(-126.9)"/>
<path d="M2 0H3" transform="rotate(-246)"/><path d="M2 0H8" transform="rotate(-169.2)"/>
<path d="M3 0H4" transform="rotate(-285.8)"/><path d="M3 0H7" transform="rotate(-206.1)"/>
<path d="M4 0H5" transform="rotate(-315.2)"/><path d="M4 0H7" transform="rotate(-256.5)"/>
<path d="M5 0H6" transform="rotate(-331.65)"/><path d="M5 0H8" transform="rotate(-298.8)"/>
<path d="M6 0H7" transform="rotate(-342.9)"/><path d="M6 0H9" transform="rotate(-320.4)"/>
<path d="M7 0H8" transform="rotate(-351)"/><path d="M7 0H9" transform="rotate(-334.8)"/>
<path d="M8 0H9" transform="rotate(-356.4)"/><path d="M8 0H10" transform="rotate(-345.6)"/>
<path d="M9 0H10" transform="rotate(-360)"/><path d="M9 0H10" transform="rotate(-352.8)"/>
<path d="M9 0H10" transform="rotate(-338.4)"/><path d="M9 0H10" transform="rotate(-331.2)"/>
<path d="M9 0H10" transform="rotate(-324)"/><path d="M9 0H10" transform="rotate(-316.8)"/>
<path d="M8 0H9" transform="rotate(-306)"/><path d="M8 0H9" transform="rotate(-291.6)"/>
<path d="M9 0H10" transform="rotate(-309.6)"/><path d="M9 0H10" transform="rotate(-302.4)"/>
<path d="M9 0H10" transform="rotate(-295.2)"/><path d="M9 0H10" transform="rotate(-288)"/>
<path d="M7 0H8" transform="rotate(-270)"/><path d="M7 0H8" transform="rotate(-243)"/>
<path d="M8 0H9" transform="rotate(-277.2)"/><path d="M8 0H9" transform="rotate(-262.8)"/>
<path d="M9 0H10" transform="rotate(-280.8)"/><path d="M9 0H10" transform="rotate(-273.6)"/>
<path d="M9 0H10" transform="rotate(-266.4)"/><path d="M9 0H10" transform="rotate(-259.2)"/>
<path d="M8 0H9" transform="rotate(-248.4)"/><path d="M8 0H10" transform="rotate(-237.6)"/>
<path d="M9 0H10" transform="rotate(-252)"/><path d="M9 0H10" transform="rotate(-244.8)"/>
<path d="M7 0H8" transform="rotate(-219.6)"/><path d="M7 0H8" transform="rotate(-192.6)"/>
<path d="M8 0H9" transform="rotate(-226.8)"/><path d="M8 0H9" transform="rotate(-212.4)"/>
<path d="M9 0H10" transform="rotate(-230.4)"/><path d="M9 0H10" transform="rotate(-223.2)"/>
<path d="M9 0H10" transform="rotate(-216)"/><path d="M9 0H10" transform="rotate(-208.8)"/>
<path d="M8 0H9" transform="rotate(-198)"/><path d="M8 0H10" transform="rotate(-187.2)"/>
<path d="M9 0H10" transform="rotate(-201.6)"/><path d="M9 0H10" transform="rotate(-194.4)"/>
<path d="M8 0H9" transform="rotate(-176.4)"/><path d="M8 0H9" transform="rotate(-162)"/>
<path d="M9 0H10" transform="rotate(-180)"/><path d="M9 0H10" transform="rotate(-172.8)"/>
<path d="M9 0H10" transform="rotate(-165.6)"/><path d="M9 0H10" transform="rotate(-158.4)"/>
<path d="M7 0H8" transform="rotate(-140.4)"/><path d="M7 0H8" transform="rotate(-113.4)"/>
<path d="M8 0H9" transform="rotate(-147.6)"/><path d="M8 0H9" transform="rotate(-133.2)"/>
<path d="M9 0H10" transform="rotate(-151.2)"/><path d="M9 0H10" transform="rotate(-144)"/>
<path d="M9 0H10" transform="rotate(-136.8)"/><path d="M9 0H10" transform="rotate(-129.6)"/>
<path d="M8 0H9" transform="rotate(-118.8)"/><path d="M8 0H10" transform="rotate(-108)"/>
<path d="M9 0H10" transform="rotate(-122.4)"/><path d="M9 0H10" transform="rotate(-115.2)"/>
<path d="M4 0H5" transform="rotate(-52)"/><path d="M4 0H8" transform="rotate(-12.6)"/>
<path d="M5 0H6" transform="rotate(-69.75)"/><path d="M5 0H8" transform="rotate(-34.2)"/>
<path d="M6 0H7" transform="rotate(-83.7)"/><path d="M6 0H8" transform="rotate(-55.8)"/>
<path d="M7 0H8" transform="rotate(-91.8)"/><path d="M7 0H9" transform="rotate(-75.6)"/>
<path d="M8 0H9" transform="rotate(-97.2)"/><path d="M8 0H10" transform="rotate(-86.4)"/>
<path d="M9 0H10" transform="rotate(-100.8)"/><path d="M9 0H10" transform="rotate(-93.6)"/>
<path d="M9 0H10" transform="rotate(-79.2)"/><path d="M9 0H10" transform="rotate(-72)"/>
<path d="M8 0H9" transform="rotate(-61.2)"/><path d="M8 0H10" transform="rotate(-50.4)"/>
<path d="M9 0H10" transform="rotate(-64.8)"/><path d="M9 0H10" transform="rotate(-57.6)"/>
<path d="M8 0H9" transform="rotate(-39.6)"/><path d="M8 0H10" transform="rotate(-28.8)"/>
<path d="M9 0H10" transform="rotate(-43.2)"/><path d="M9 0H10" transform="rotate(-36)"/>
<path d="M8 0H9" transform="rotate(-18)"/><path d="M8 0H10" transform="rotate(-7.2)"/>
<path d="M9 0H10" transform="rotate(-21.6)"/><path d="M9 0H10" transform="rotate(-14.4)"/>
<circle r="1" transform="rotate(-207.6)" stroke-dasharray="1.408 99"/>
<circle r="2" transform="rotate(-246)" stroke-dasharray="2.679 99"/>
<circle r="3" transform="rotate(-285.8)" stroke-dasharray="4.175 99"/>
<circle r="4" transform="rotate(-315.2)" stroke-dasharray="4.099 99"/>
<circle r="5" transform="rotate(-331.65)" stroke-dasharray="2.867 99"/>
<circle r="6" transform="rotate(-342.9)" stroke-dasharray="2.356 99"/>
<circle r="7" transform="rotate(-351)" stroke-dasharray="1.979 99"/>
<circle r="8" transform="rotate(-356.4)" stroke-dasharray="1.508 99"/>
<circle r="9" transform="rotate(-360)" stroke-dasharray="1.131 99"/>
<circle r="9" transform="rotate(-338.4)" stroke-dasharray="1.131 99"/>
<circle r="9" transform="rotate(-324)" stroke-dasharray="1.131 99"/>
<circle r="8" transform="rotate(-306)" stroke-dasharray="2.011 99"/>
<circle r="9" transform="rotate(-309.6)" stroke-dasharray="1.131 99"/>
<circle r="9" transform="rotate(-295.2)" stroke-dasharray="1.131 99"/>
<circle r="7" transform="rotate(-270)" stroke-dasharray="3.299 99"/>
<circle r="8" transform="rotate(-277.2)" stroke-dasharray="2.011 99"/>
<circle r="9" transform="rotate(-280.8)" stroke-dasharray="1.131 99"/>
<circle r="9" transform="rotate(-266.4)" stroke-dasharray="1.131 99"/>
<circle r="8" transform="rotate(-248.4)" stroke-dasharray="1.508 99"/>
<circle r="9" transform="rotate(-252)" stroke-dasharray="1.131 99"/>
<circle r="7" transform="rotate(-219.6)" stroke-dasharray="3.299 99"/>
<circle r="8" transform="rotate(-226.8)" stroke-dasharray="2.011 99"/>
<circle r="9" transform="rotate(-230.4)" stroke-dasharray="1.131 99"/>
<circle r="9" transform="rotate(-216)" stroke-dasharray="1.131 99"/>
<circle r="8" transform="rotate(-198)" stroke-dasharray="1.508 99"/>
<circle r="9" transform="rotate(-201.6)" stroke-dasharray="1.131 99"/>
<circle r="8" transform="rotate(-176.4)" stroke-dasharray="2.011 99"/>
<circle r="9" transform="rotate(-180)" stroke-dasharray="1.131 99"/>
<circle r="9" transform="rotate(-165.6)" stroke-dasharray="1.131 99"/>
<circle r="7" transform="rotate(-140.4)" stroke-dasharray="3.299 99"/>
<circle r="8" transform="rotate(-147.6)" stroke-dasharray="2.011 99"/>
<circle r="9" transform="rotate(-151.2)" stroke-dasharray="1.131 99"/>
<circle r="9" transform="rotate(-136.8)" stroke-dasharray="1.131 99"/>
<circle r="8" transform="rotate(-118.8)" stroke-dasharray="1.508 99"/>
<circle r="9" transform="rotate(-122.4)" stroke-dasharray="1.131 99"/>
<circle r="4" transform="rotate(-52)" stroke-dasharray="2.749 99"/>
<circle r="5" transform="rotate(-69.75)" stroke-dasharray="3.102 99"/>
<circle r="6" transform="rotate(-83.7)" stroke-dasharray="2.922 99"/>
<circle r="7" transform="rotate(-91.8)" stroke-dasharray="1.979 99"/>
<circle r="8" transform="rotate(-97.2)" stroke-dasharray="1.508 99"/>
<circle r="9" transform="rotate(-100.8)" stroke-dasharray="1.131 99"/>
<circle r="9" transform="rotate(-79.2)" stroke-dasharray="1.131 99"/>
<circle r="8" transform="rotate(-61.2)" stroke-dasharray="1.508 99"/>
<circle r="9" transform="rotate(-64.8)" stroke-dasharray="1.131 99"/>
<circle r="8" transform="rotate(-39.6)" stroke-dasharray="1.508 99"/>
<circle r="9" transform="rotate(-43.2)" stroke-dasharray="1.131 99"/>
<circle r="8" transform="rotate(-18)" stroke-dasharray="1.508 99"/>
<circle r="9" transform="rotate(-21.6)" stroke-dasharray="1.131 99"/>
</g>
<g id="tree-L" class="t" transform="translate(862,575) scale(0.33333)" style="stroke-width:3.6">
<path d="M425 462L428 422L530 298M425 462L400 492L385 532M425 462L660 530M400 492L230 318M385 532L350 558M385 532L455 680M230 318L150 335M230 318L218 238M222 285L182 260M190 322L155 300M530 298L525 255L430 180L355 152M430 180L385 115M430 180L415 100M525 255L540 218L545 175L548 60M545 175L510 60M535 150L462 85M528 125L483 70M547 100L575 68M540 218L600 160L620 85M600 160L675 135M640 130L655 112M530 298L695 272L770 302M695 272L740 208M718 240L762 238M660 530L695 525L775 548M695 525L740 490L772 478M740 490L765 505M660 530L678 570L680 650M678 570L750 598M700 585L738 620M680 610L705 640M350 558L270 555L240 530L180 470L152 445M180 470L140 465M240 530L160 500L125 490M160 500L118 512M270 555L200 535L115 538M270 555L150 580L112 575M150 580L118 598M350 558L215 635L135 645M215 635L185 712M190 660L148 670M200 680L160 690M350 558L320 678L308 795M320 678L360 785M320 678L290 710L222 740M290 710L258 775M275 728L240 762M455 680L420 793M455 680L488 793M455 700L462 795M455 680L565 718M510 698L545 775M490 690L520 770"/>
</g>
</svg>
